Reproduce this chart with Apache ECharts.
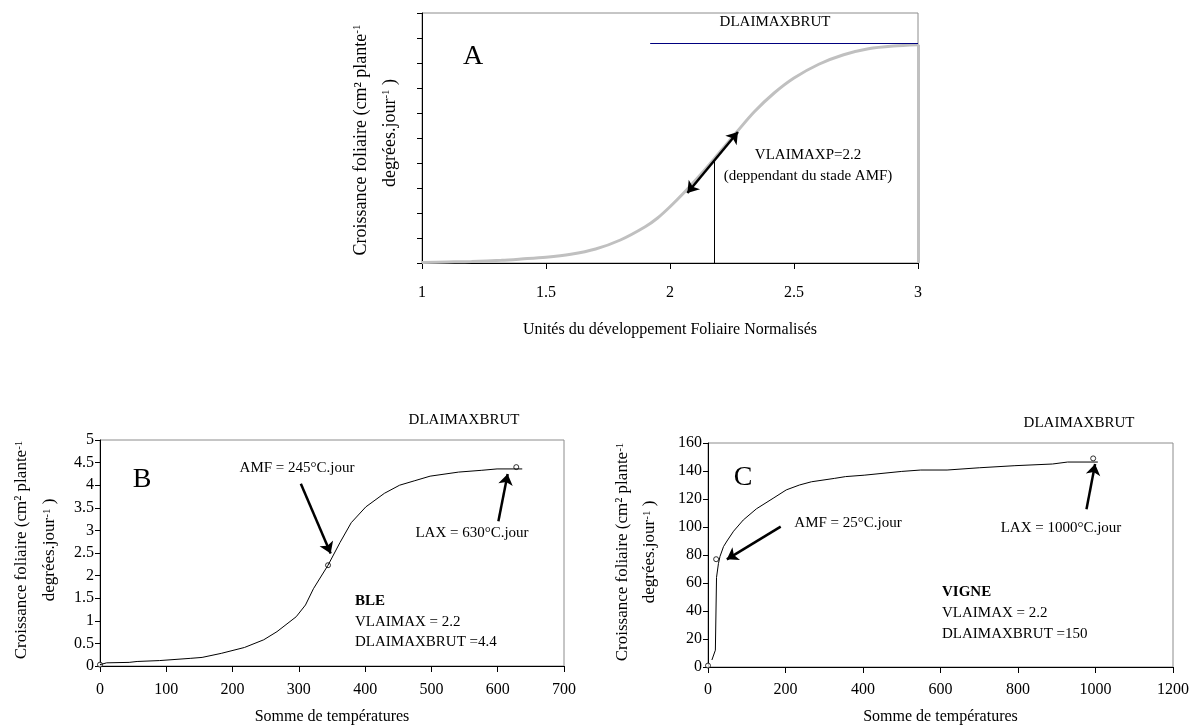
<!DOCTYPE html>
<html>
<head>
<meta charset="utf-8">
<script src="https://cdn.jsdelivr.net/npm/echarts@6/dist/echarts.min.js"></script>
<style>
  html, body { margin: 0; padding: 0; background: #fff; }
  #main { width: 1192px; height: 726px; }
</style>
</head>
<body>
<div id="main"></div>
<script>
// --- A : normalised leaf development units
var xA = [1, 1.1, 1.2, 1.32, 1.4, 1.5, 1.6, 1.7, 1.8, 1.9, 1.95, 2.0, 2.06, 2.12, 2.185, 2.27, 2.34, 2.42, 2.5, 2.6, 2.7, 2.8, 2.9, 3.0];
var yA = [0.02, 0.04, 0.06, 0.11, 0.16, 0.23, 0.35, 0.56, 0.92, 1.45, 1.8, 2.25, 2.85, 3.5, 4.25, 5.25, 6.05, 6.8, 7.4, 7.95, 8.33, 8.57, 8.68, 8.73];
var dropA = [[3, 8.73], [3, 0]];
var dlaiA = [[1.92, 8.8], [3, 8.8]];
var vlaiA = [[2.18, 0], [2.18, 4.13]];
var arrowA = [[2.07, 2.8], [2.274, 5.24]];

// --- B : BLE
var xB = [0, 10, 44, 56, 90, 137, 154, 183, 218, 247, 267, 296, 310, 322, 344, 362, 379, 401, 429, 452, 475, 498, 541, 576, 599, 637];
var yB = [0.03, 0.07, 0.08, 0.1, 0.12, 0.17, 0.19, 0.28, 0.41, 0.58, 0.76, 1.09, 1.35, 1.71, 2.23, 2.73, 3.17, 3.52, 3.82, 4.0, 4.1, 4.2, 4.29, 4.33, 4.36, 4.36];
var ptsB = [[0, 0.03], [344, 2.23], [628, 4.4]];
var amfArrowB = [[303, 4.03], [348, 2.49]];
var laxArrowB = [[601, 3.2], [615, 4.25]];

// --- C : VIGNE
var xC = [10, 19, 22, 27, 31, 40, 49, 66, 91, 125, 168, 202, 236, 267, 326, 355, 403, 500, 549, 617, 700, 792, 889, 928, 1006];
var yC = [5, 12, 64, 74, 79, 86, 90, 97, 105, 113, 120.5, 126.5, 130, 132.3, 134.7, 136, 137, 139.7, 140.7, 140.7, 142.3, 143.8, 145, 146.4, 146.4];
var ptsC = [[0, 1], [21, 77], [994, 149]];
var amfArrowC = [[187.6, 100.3], [48.6, 76.9]];
var laxArrowC = [[976.7, 112.7], [999, 145]];

var FONT = 'Liberation Serif';

function zip(xs, ys) {
  return xs.map(function (x, i) { return [x, ys[i]]; });
}

function xAxisFor(grid, min, max, interval, name, gap, margin, size) {
  return {
    type: 'value', gridIndex: grid, min: min, max: max, interval: interval,
    name: name, nameLocation: 'middle', nameGap: gap,
    nameTextStyle: { fontFamily: FONT, fontSize: size, color: '#000' },
    axisLine: { show: true, onZero: false, lineStyle: { color: '#000', width: 1 } },
    axisTick: { show: true, inside: false, length: 6, lineStyle: { color: '#000' } },
    axisLabel: { fontFamily: FONT, fontSize: size, color: '#000', margin: margin,
      formatter: function (v) { return String(v); } },
    splitLine: { show: false }
  };
}

function yAxisFor(grid, min, max, interval, labels) {
  return {
    type: 'value', gridIndex: grid, min: min, max: max, interval: interval,
    axisLine: { show: true, onZero: false, lineStyle: { color: '#000', width: 1 } },
    axisTick: { show: true, inside: false, length: 5, lineStyle: { color: '#000' } },
    axisLabel: { show: labels, fontFamily: FONT, fontSize: 16, color: '#000', margin: 6,
      formatter: function (v) { return String(v); } },
    splitLine: { show: false }
  };
}

function seg(p, sym, style) {
  return [
    { coord: p[0], symbol: sym[0], lineStyle: style },
    { coord: p[1], symbol: sym[1] }
  ];
}

var arrowStyle = { color: '#000', width: 2.5, type: 'solid' };
var thinStyle = { color: '#000', width: 1, type: 'solid' };

function txt(x, y, s, size, opts) {
  opts = opts || {};
  return {
    type: 'text', x: x, y: y, rotation: opts.rot || 0, silent: true,
    style: {
      text: s, fontFamily: FONT, fontSize: size, fill: '#000',
      fontWeight: opts.bold ? 'bold' : 'normal',
      align: opts.align || 'center', verticalAlign: 'middle',
      rich: { sup: { fontSize: 11, verticalAlign: 'top', fontFamily: FONT } }
    }
  };
}

var yTitle1 = 'Croissance foliaire (cm² plante{sup|-1}';
var yTitle2 = 'degrées.jour{sup|-1} )';
var ROT = Math.PI / 2;

var chart = echarts.init(document.getElementById('main'), null, { renderer: 'canvas' });

chart.setOption({
  animation: false,
  backgroundColor: '#fff',
  grid: [
    { left: 422, top: 13, width: 496, height: 250, show: true, borderColor: '#8c8c8c', borderWidth: 1, backgroundColor: 'transparent' },
    { left: 100, top: 440, width: 464, height: 227, show: true, borderColor: '#8c8c8c', borderWidth: 1, backgroundColor: 'transparent' },
    { left: 708, top: 443, width: 466, height: 224, show: true, borderColor: '#8c8c8c', borderWidth: 1, backgroundColor: 'transparent' }
  ],
  xAxis: [
    xAxisFor(0, 1, 3, 0.5, 'Unités du développement Foliaire Normalisés', 59, 22, 16),
    xAxisFor(1, 0, 700, 100, 'Somme de températures', 43, 16, 16),
    xAxisFor(2, 0, 1200, 200, 'Somme de températures', 42, 15, 16)
  ],
  yAxis: [
    yAxisFor(0, 0, 10, 1, false),
    yAxisFor(1, 0, 5, 0.5, true),
    yAxisFor(2, 0, 160, 20, true)
  ],
  series: [
    {
      type: 'line', xAxisIndex: 0, yAxisIndex: 0, data: zip(xA, yA),
      showSymbol: false, smooth: 0.3,
      lineStyle: { color: '#c0c0c0', width: 3 },
      markLine: {
        silent: true, symbolSize: 11, label: { show: false },
        data: [
          seg(dropA, ['none', 'none'], { color: '#c0c0c0', width: 3, type: 'solid' }),
          seg(dlaiA, ['none', 'none'], { color: '#00007f', width: 1, type: 'solid' }),
          seg(vlaiA, ['none', 'none'], thinStyle),
          seg(arrowA, ['arrow', 'arrow'], arrowStyle)
        ]
      }
    },
    {
      type: 'line', xAxisIndex: 1, yAxisIndex: 1, data: zip(xB, yB),
      showSymbol: false, smooth: false,
      lineStyle: { color: '#000', width: 1 },
      markLine: {
        silent: true, symbolSize: 11, label: { show: false },
        data: [
          seg(amfArrowB, ['none', 'arrow'], arrowStyle),
          seg(laxArrowB, ['none', 'arrow'], arrowStyle)
        ]
      }
    },
    {
      type: 'scatter', xAxisIndex: 1, yAxisIndex: 1, data: ptsB,
      symbol: 'circle', symbolSize: 5,
      itemStyle: { color: '#fff', borderColor: '#000', borderWidth: 1 }
    },
    {
      type: 'line', xAxisIndex: 2, yAxisIndex: 2, data: zip(xC, yC),
      showSymbol: false, smooth: false,
      lineStyle: { color: '#000', width: 1 },
      markLine: {
        silent: true, symbolSize: 11, label: { show: false },
        data: [
          seg(amfArrowC, ['none', 'arrow'], arrowStyle),
          seg(laxArrowC, ['none', 'arrow'], arrowStyle)
        ]
      }
    },
    {
      type: 'scatter', xAxisIndex: 2, yAxisIndex: 2, data: ptsC,
      symbol: 'circle', symbolSize: 5,
      itemStyle: { color: '#fff', borderColor: '#000', borderWidth: 1 }
    }
  ],
  graphic: [
    // chart A
    txt(361, 140, yTitle1, 18, { rot: ROT }),
    txt(390, 133, yTitle2, 18, { rot: ROT }),
    txt(473, 57, 'A', 28),
    txt(775, 22, 'DLAIMAXBRUT', 15),
    txt(808, 155, 'VLAIMAXP=2.2', 15),
    txt(808, 176, '(deppendant du stade AMF)', 15),
    // chart B
    txt(22, 550, yTitle1, 17, { rot: ROT }),
    txt(50, 550, yTitle2, 17, { rot: ROT }),
    txt(142, 480, 'B', 28),
    txt(297, 468, 'AMF = 245°C.jour', 15),
    txt(472, 533, 'LAX = 630°C.jour', 15),
    txt(464, 420, 'DLAIMAXBRUT', 15),
    txt(355, 601, 'BLE', 15, { align: 'left', bold: true }),
    txt(355, 622, 'VLAIMAX = 2.2', 15, { align: 'left' }),
    txt(355, 642, 'DLAIMAXBRUT =4.4', 15, { align: 'left' }),
    // chart C
    txt(623, 552, yTitle1, 17, { rot: ROT }),
    txt(650, 552, yTitle2, 17, { rot: ROT }),
    txt(743, 478, 'C', 28),
    txt(848, 523, 'AMF = 25°C.jour', 15),
    txt(1061, 528, 'LAX = 1000°C.jour', 15),
    txt(1079, 423, 'DLAIMAXBRUT', 15),
    txt(942, 592, 'VIGNE', 15, { align: 'left', bold: true }),
    txt(942, 613, 'VLAIMAX = 2.2', 15, { align: 'left' }),
    txt(942, 634, 'DLAIMAXBRUT =150', 15, { align: 'left' })
  ]
});
</script>
</body>
</html>
